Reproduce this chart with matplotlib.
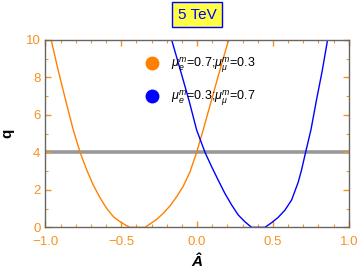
import matplotlib.pyplot as plt
from matplotlib.lines import Line2D
from matplotlib.ticker import MultipleLocator

plt.rcParams['font.family'] = ['Liberation Sans', 'DejaVu Sans']
plt.rcParams['mathtext.fontset'] = 'custom'
plt.rcParams['mathtext.rm'] = 'Liberation Sans'
plt.rcParams['mathtext.it'] = 'Liberation Sans:italic'

# orange curve: mu_e=0.7, mu_mu=0.3
a_orange = [-0.962, -0.914, -0.859, -0.816, -0.771, -0.727, -0.684, -0.640, -0.596, -0.552,
            -0.508, -0.464, -0.442, -0.39, -0.343, -0.311, -0.266, -0.223, -0.179, -0.135,
            -0.091, -0.047, -0.003, 0.040, 0.092, 0.148, 0.208]
q_orange = [10, 8.32, 6.54, 5.19, 4.0, 3.05, 2.25, 1.58, 1.01, 0.57,
            0.30, 0.085, 0.0, 0.0, 0.0, 0.18, 0.43, 0.75, 1.14, 1.63,
            2.2, 2.95, 4.0, 5.19, 6.70, 8.32, 10]

# blue curve: mu_e=0.3, mu_mu=0.7
a_blue = [-0.168, -0.108, -0.052, -0.003, 0.052, 0.096, 0.139, 0.183, 0.228, 0.271,
          0.315, 0.359, 0.40, 0.447, 0.491, 0.534, 0.579, 0.623, 0.666, 0.688,
          0.715, 0.750, 0.787, 0.824, 0.860]
q_blue = [10, 8.32, 6.72, 5.19, 4.0, 3.23, 2.52, 1.81, 1.19, 0.66,
          0.30, 0.0, 0.0, 0.0, 0.25, 0.53, 0.92, 1.46, 2.4, 3.05,
          4.0, 5.19, 6.80, 8.32, 10]

q_level = 4
labels = [r"$\mu_e^m$=0.7;$\mu_\mu^m$=0.3", r"$\mu_e^m$=0.3;$\mu_\mu^m$=0.7"]

orange = '#ff8000'
tick_orange = '#f7931e'
blue = '#0000ff'

fig = plt.figure(figsize=(3.6, 2.8), dpi=100)
ax = fig.add_axes([0.126, 0.188, 0.843, 0.670])

ax.axhline(q_level, color='#999999', lw=2.6, zorder=1)
ax.plot(a_orange, q_orange, color=orange, lw=1)
ax.plot(a_blue, q_blue, color=blue, lw=1)

ax.set_xlim(-1, 1)
ax.set_ylim(0, 10)
ax.xaxis.set_major_locator(MultipleLocator(0.5))
ax.xaxis.set_minor_locator(MultipleLocator(0.1))
ax.yaxis.set_major_locator(MultipleLocator(2))
ax.yaxis.set_minor_locator(MultipleLocator(1))
ax.xaxis.set_major_formatter(lambda v, p: f"{v:.1f}".replace('-', '\u2212'))

for s in ax.spines.values():
    s.set_color('#666666')
    s.set_linewidth(1)

ax.tick_params(which='both', direction='in', top=True, right=True, color=tick_orange,
               labelcolor=tick_orange, labelsize=9.5)
ax.tick_params(which='major', length=4, width=1)
ax.tick_params(which='minor', length=2.5, width=0.8)
ax.tick_params(axis='x', pad=6)

ax.set_xlabel("\u00c2", fontsize=11, fontweight='bold', style='italic', labelpad=5)
ax.set_ylabel("q", fontsize=11, fontweight='bold', labelpad=8)

handles = [Line2D([], [], ls='none', marker='o', ms=9, color=orange),
           Line2D([], [], ls='none', marker='o', ms=9, color=blue)]
ax.legend(handles, labels, loc='upper left', bbox_to_anchor=(0.29, 0.975), frameon=False,
          fontsize=9, handletextpad=0.9, labelspacing=1.1, handlelength=1.2)

fig.text(0.547, 0.947, "5 TeV", ha='center', va='center', color=blue, fontsize=11,
         bbox=dict(boxstyle='square,pad=0.35', fc='#ffff44', ec=blue, lw=1))

fig.savefig('out.png', dpi=100)
